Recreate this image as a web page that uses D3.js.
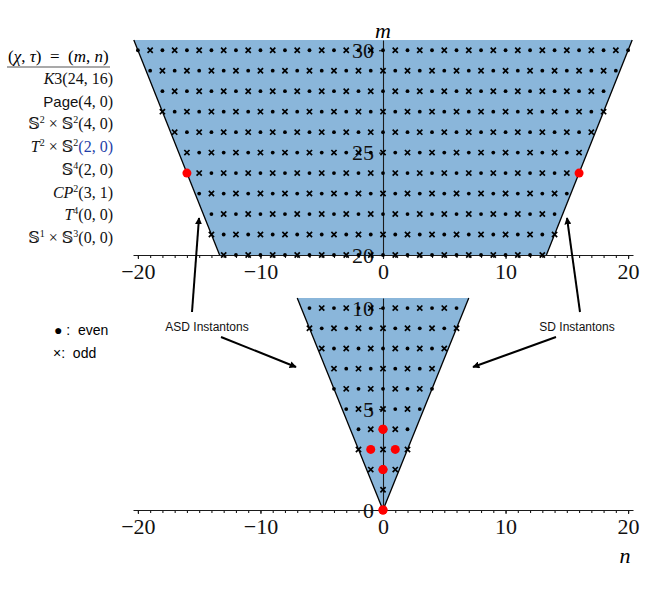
<!DOCTYPE html>
<html>
<head>
<meta charset="utf-8">
<script src="https://cdn.jsdelivr.net/npm/d3@7"></script>
<style>
  body { margin: 0; background: #fff; }
  svg { display: block; }
</style>
</head>
<body>
<div id="chart"></div>
<script>
// Lattice rows: m value and the largest |n| drawn on that row
const topRowsM = [20, 21, 22, 23, 24, 25, 26, 27, 28, 29, 30];
const topRowsMaxN = [13, 14, 14, 15, 16, 16, 17, 18, 18, 19, 20];
const bottomRowsM = [1, 2, 3, 4, 5, 6, 7, 8, 9, 10];
const bottomRowsMaxN = [0, 1, 2, 2, 3, 4, 4, 5, 6, 6];

// Tick labels
const xMajorTicks = [-20, -10, 0, 10, 20];
const xMinorTicks = d3.range(-20, 21, 1);
const topTicksY = [20, 25, 30];
const bottomTicksY = [0, 5, 10];

// Manifolds: name and (chi, tau) = (m, n)
const manifoldNames = ["K3", "Page", "S2xS2", "T2xS2", "S4", "CP2", "T4", "S1xS3"];
const manifoldChi = [24, 4, 4, 2, 2, 3, 0, 0];
const manifoldTau = [16, 0, 0, 0, 0, 1, 0, 0];

// Cone edge |n| = slope * m
const coneSlope = 2 / 3;

function init() {
    const w = 667;
    const h = 601;

    const svg = d3.select("#chart")
        .append("svg")
        .attr("width", w)
        .attr("height", h);

    const x = d3.scaleLinear().domain([-20.4, 20.4]).range([133, 633]);
    const yTop = d3.scaleLinear().domain([20, 30.5]).range([255, 40]);
    const yBot = d3.scaleLinear().domain([0, 10.5]).range([510, 298]);

    const panels = [
        { y: yTop, rowsM: topRowsM, rowsMaxN: topRowsMaxN, ticks: topTicksY, mMin: 20, mMax: 30.5 },
        { y: yBot, rowsM: bottomRowsM, rowsMaxN: bottomRowsMaxN, ticks: bottomTicksY, mMin: 0, mMax: 10.5 }
    ];

    panels.forEach(function(p) {
        const y = p.y;
        const nLo = coneSlope * p.mMin;
        const nHi = coneSlope * p.mMax;

        // shaded cone
        const poly = [[-nLo, p.mMin], [-nHi, p.mMax], [nHi, p.mMax], [nLo, p.mMin]];
        svg.append("path")
            .attr("d", d3.line().x(d => x(d[0])).y(d => y(d[1]))(poly) + "Z")
            .attr("fill", "#8ab6da");

        // slanted edges
        [[[-nLo, p.mMin], [-nHi, p.mMax]], [[nLo, p.mMin], [nHi, p.mMax]]].forEach(function(seg) {
            svg.append("line")
                .attr("x1", x(seg[0][0])).attr("y1", y(seg[0][1]))
                .attr("x2", x(seg[1][0])).attr("y2", y(seg[1][1]))
                .attr("stroke", "#000")
                .attr("stroke-width", 1.3);
        });

        // x axis (major + minor)
        const gx = svg.append("g")
            .attr("transform", "translate(0," + y(p.mMin) + ")")
            .call(d3.axisBottom(x).tickValues(xMajorTicks).tickSize(4).tickPadding(4).tickSizeOuter(0));
        svg.append("g")
            .attr("transform", "translate(0," + y(p.mMin) + ")")
            .call(d3.axisBottom(x).tickValues(xMinorTicks).tickSize(3).tickFormat(""))
            .call(g => g.select(".domain").remove());

        // y axis
        const gy = svg.append("g")
            .attr("transform", "translate(" + x(0) + ",0)")
            .call(d3.axisLeft(y).tickValues(p.ticks).tickSize(4).tickPadding(5).tickSizeOuter(0));

        [gx, gy].forEach(function(g) {
            g.selectAll("text")
                .attr("font-family", "'Liberation Serif', 'DejaVu Serif', serif")
                .attr("font-size", "22px")
                .attr("fill", "#111");
        });
        svg.selectAll(".domain, .tick line").attr("stroke", "#1a1a1a").attr("stroke-width", 1.1);

        // lattice points
        const pts = [];
        p.rowsM.forEach(function(m, i) {
            const maxN = p.rowsMaxN[i];
            for (let n = -maxN; n <= maxN; n++) {
                pts.push({ m: m, n: n, even: (m + n) % 2 === 0 });
            }
        });

        svg.selectAll(null)
            .data(pts.filter(d => d.even))
            .enter()
            .append("circle")
            .attr("cx", d => x(d.n))
            .attr("cy", d => y(d.m))
            .attr("r", 1.9)
            .attr("fill", "#000");

        svg.selectAll(null)
            .data(pts.filter(d => !d.even))
            .enter()
            .append("path")
            .attr("transform", d => "translate(" + x(d.n) + "," + y(d.m) + ")")
            .attr("d", "M-2.6,-2.6L2.6,2.6M-2.6,2.6L2.6,-2.6")
            .attr("stroke", "#000")
            .attr("stroke-width", 1.7);

        // red manifold points
        const red = [];
        manifoldChi.forEach(function(chi, i) {
            if (chi >= p.mMin && chi <= p.mMax) {
                red.push({ m: chi, n: manifoldTau[i] });
                if (manifoldTau[i] !== 0) red.push({ m: chi, n: -manifoldTau[i] });
            }
        });
        svg.selectAll(null)
            .data(red)
            .enter()
            .append("circle")
            .attr("cx", d => x(d.n))
            .attr("cy", d => y(d.m))
            .attr("r", 4.5)
            .attr("fill", "#ff0000");
    });

    // axis names
    svg.append("text")
        .attr("x", x(0)).attr("y", 38)
        .attr("text-anchor", "middle")
        .attr("font-family", "'Liberation Serif', serif")
        .attr("font-style", "italic")
        .attr("font-size", "22px")
        .text("m");
    svg.append("text")
        .attr("x", 625).attr("y", 563)
        .attr("text-anchor", "middle")
        .attr("font-family", "'Liberation Serif', serif")
        .attr("font-style", "italic")
        .attr("font-size", "22px")
        .text("n");

    // manifold list on the left
    const serif = "'Liberation Serif', 'DejaVu Serif', serif";
    const hdr = svg.append("text")
        .attr("x", 8).attr("y", 62)
        .attr("font-family", serif)
        .attr("font-size", "17px")
        .attr("xml:space", "preserve");
    hdr.append("tspan").text("(");
    hdr.append("tspan").attr("font-style", "italic").text("χ");
    hdr.append("tspan").text(", ");
    hdr.append("tspan").attr("font-style", "italic").text("τ");
    hdr.append("tspan").text(")  =  (");
    hdr.append("tspan").attr("font-style", "italic").text("m");
    hdr.append("tspan").text(", ");
    hdr.append("tspan").attr("font-style", "italic").text("n");
    hdr.append("tspan").text(")");
    svg.append("line")
        .attr("x1", 7).attr("x2", 110)
        .attr("y1", 67).attr("y2", 67)
        .attr("stroke", "#555").attr("stroke-width", 1.2);

    // pieces: [text, style] ; style: i italic, r roman, s superscript, f sans
    const bb = "\u{1D54A}";
    const listParts = {
        "K3": [["K", "i"], ["3", "r"]],
        "Page": [["Page", "f"]],
        "S2xS2": [[bb, "r"], ["2", "s"], [" × ", "r"], [bb, "r"], ["2", "s"]],
        "T2xS2": [["T", "i"], ["2", "s"], [" × ", "r"], [bb, "r"], ["2", "s"]],
        "S4": [[bb, "r"], ["4", "s"]],
        "CP2": [["CP", "i"], ["2", "s"]],
        "T4": [["T", "i"], ["4", "s"]],
        "S1xS3": [[bb, "r"], ["1", "s"], [" × ", "r"], [bb, "r"], ["3", "s"]]
    };

    manifoldNames.forEach(function(name, i) {
        const t = svg.append("text")
            .attr("x", 113)
            .attr("y", 84 + i * 22.7)
            .attr("text-anchor", "end")
            .attr("font-family", serif)
            .attr("font-size", "16px")
            .attr("fill", "#111");
        let raised = false;
        listParts[name].forEach(function(part) {
            const ts = t.append("tspan").text(part[0]);
            if (part[1] === "i") ts.attr("font-style", "italic");
            if (part[1] === "f") ts.attr("font-family", "'Liberation Sans', sans-serif").attr("font-size", "15px");
            if (part[1] === "s") {
                ts.attr("font-size", "10px").attr("dy", -6);
                raised = true;
            } else if (raised) {
                ts.attr("dy", 6);
                raised = false;
            }
        });
        const val = t.append("tspan")
            .attr("fill", name === "T2xS2" ? "#1f3ea8" : "#111")
            .text("(" + manifoldChi[i] + ", " + manifoldTau[i] + ")");
        if (raised) val.attr("dy", 6);
    });

    // legend
    const sans = "'Liberation Sans', 'DejaVu Sans', sans-serif";
    svg.append("text")
        .attr("x", 54).attr("y", 335)
        .attr("font-family", sans).attr("font-size", "14px")
        .attr("xml:space", "preserve")
        .text("● :  even");
    svg.append("text")
        .attr("x", 53).attr("y", 358)
        .attr("font-family", sans).attr("font-size", "14px")
        .attr("xml:space", "preserve")
        .text("×:  odd");

    // annotations
    const defs = svg.append("defs");
    defs.append("marker")
        .attr("id", "ah")
        .attr("viewBox", "0 0 10 10")
        .attr("refX", 9).attr("refY", 5)
        .attr("markerWidth", 7).attr("markerHeight", 7)
        .attr("markerUnits", "userSpaceOnUse")
        .attr("orient", "auto")
        .append("path")
        .attr("d", "M0,0L10,5L0,10Z")
        .attr("fill", "#000");

    const notes = [
        { label: "ASD Instantons", tx: 207, ty: 331, arrows: [[192, 312, 199, 218], [221, 337, 296, 367]] },
        { label: "SD Instantons", tx: 577, ty: 331, arrows: [[580, 312, 567, 218], [556, 337, 473, 367]] }
    ];
    notes.forEach(function(nt) {
        svg.append("text")
            .attr("x", nt.tx).attr("y", nt.ty)
            .attr("text-anchor", "middle")
            .attr("font-family", sans)
            .attr("font-size", "12px")
            .attr("fill", "#111")
            .text(nt.label);
        nt.arrows.forEach(function(a) {
            svg.append("line")
                .attr("x1", a[0]).attr("y1", a[1])
                .attr("x2", a[2]).attr("y2", a[3])
                .attr("stroke", "#000")
                .attr("stroke-width", 2)
                .attr("marker-end", "url(#ah)");
        });
    });
}

window.onload = init;
</script>
</body>
</html>
